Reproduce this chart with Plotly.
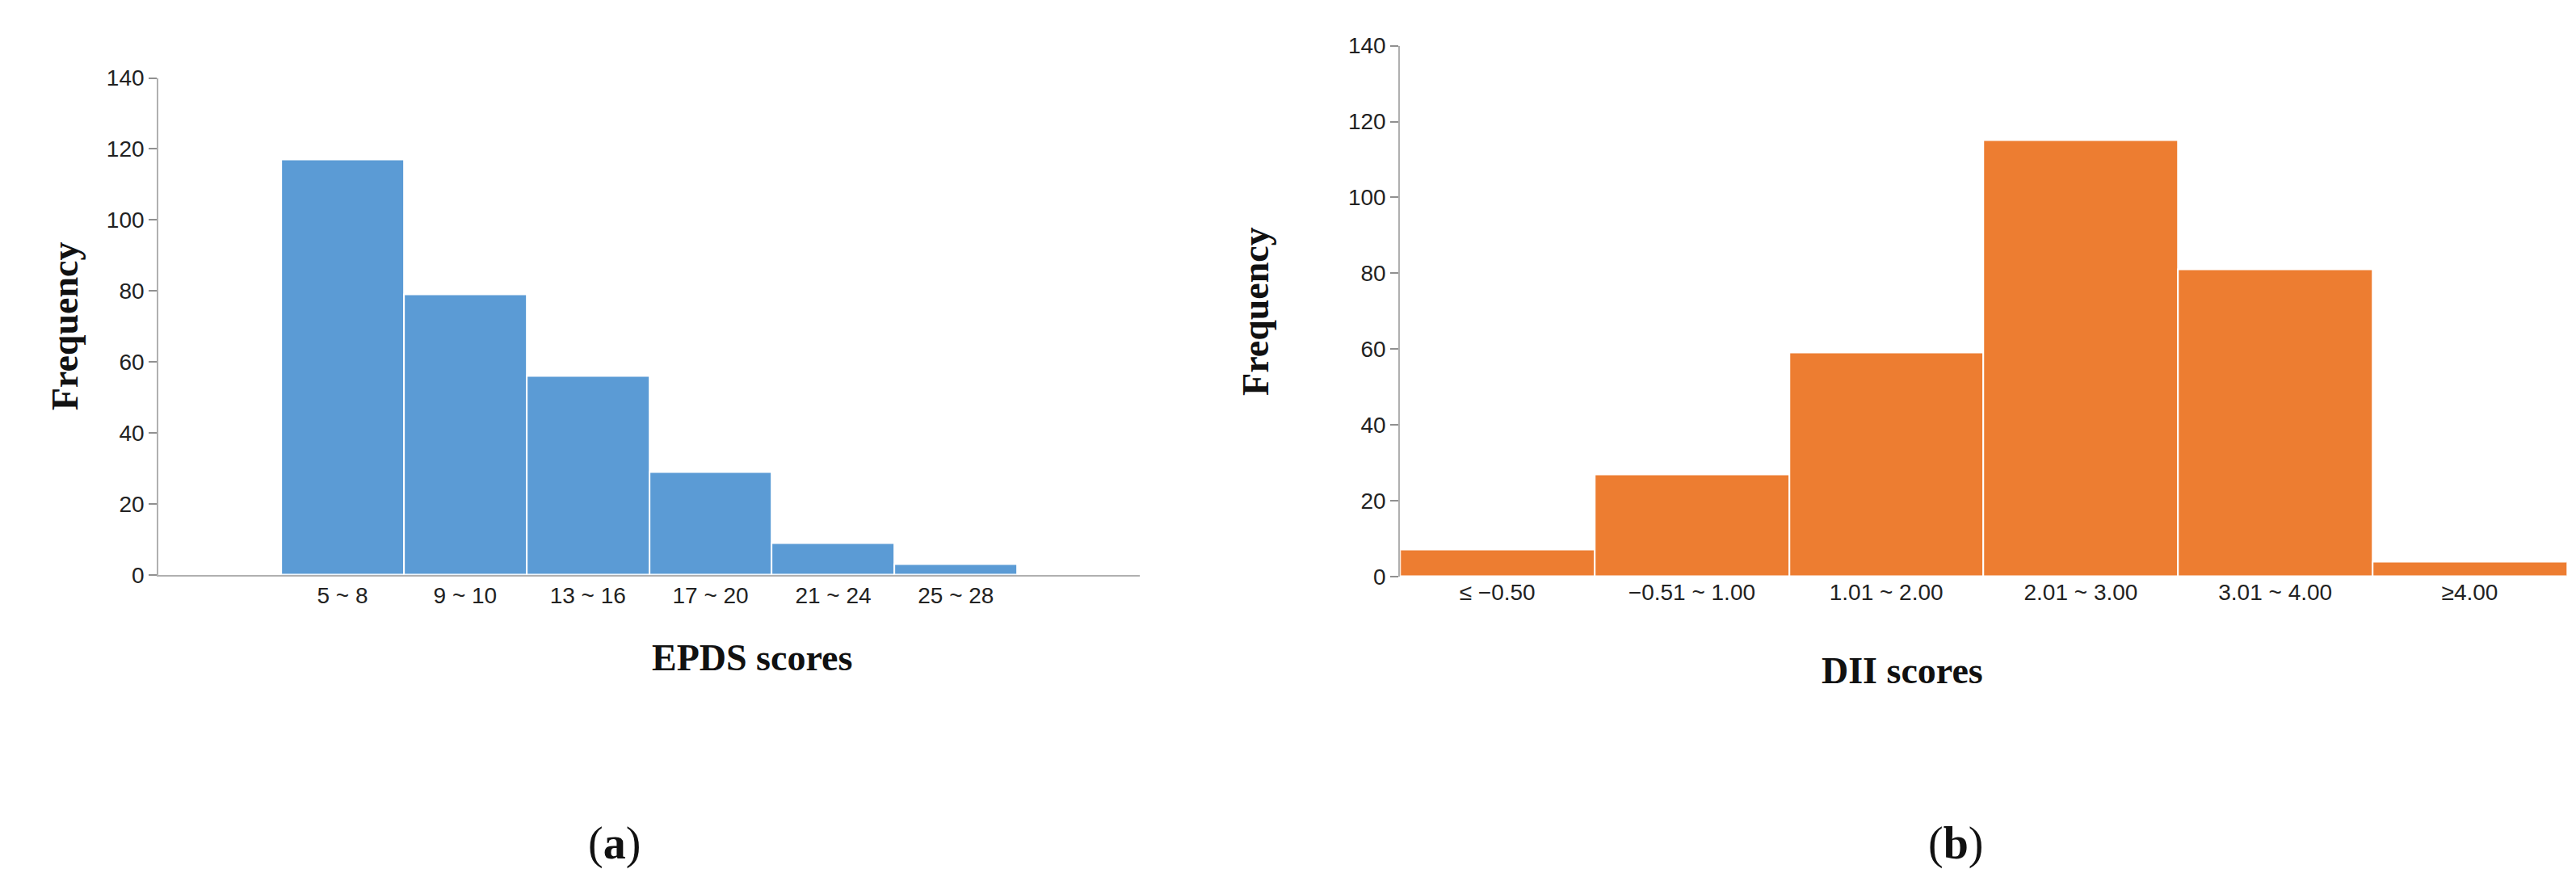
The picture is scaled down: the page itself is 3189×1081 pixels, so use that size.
import plotly.graph_objects as go

epds_labels = ["5 ~ 8", "9 ~ 10", "13 ~ 16", "17 ~ 20", "21 ~ 24", "25 ~ 28"]
epds_freq = [117, 79, 56, 29, 9, 3]
dii_labels = ["≤ −0.50", "−0.51 ~ 1.00", "1.01 ~ 2.00", "2.01 ~ 3.00", "3.01 ~ 4.00", "≥4.00"]
dii_freq = [7, 27, 59, 115, 81, 4]
y_ticks = [0, 20, 40, 60, 80, 100, 120, 140]

W, H = 3189, 1081
tickfont = dict(family="Liberation Sans", size=28, color="#222")
titlefont = dict(family="Liberation Serif", size=46, color="#111")

fig = go.Figure()
xa = [i + 1.5 for i in range(len(epds_freq))]
fig.add_trace(go.Bar(x=xa, y=epds_freq, width=1, marker=dict(color="#5B9BD5", line=dict(color="white", width=2)),
                     xaxis="x", yaxis="y", showlegend=False))
xb = [i + 0.5 for i in range(len(dii_freq))]
fig.add_trace(go.Bar(x=xb, y=dii_freq, width=1, marker=dict(color="#ED7D31", line=dict(color="white", width=2)),
                     xaxis="x2", yaxis="y2", showlegend=False))

axcommon = dict(showgrid=False, zeroline=False, linecolor="#b0b0b0", linewidth=2, ticks="outside",
                tickcolor="#909090", ticklen=10, tickwidth=2, tickfont=tickfont)
fig.update_layout(
    width=W, height=H, plot_bgcolor="white", paper_bgcolor="white",
    margin=dict(l=0, r=0, t=0, b=0),
    xaxis=dict(domain=[0.059, 0.44], range=[0, 8], tickvals=xa, ticktext=epds_labels,
               showline=True, showgrid=False, zeroline=False, linecolor="#b0b0b0", linewidth=2,
               ticks="", tickfont=tickfont, anchor="y"),
    yaxis=dict(domain=[0.344, 0.93], range=[0, 140], tickvals=y_ticks, showline=True, anchor="x", **{k: v for k, v in axcommon.items() if k not in ()}),
    xaxis2=dict(domain=[0.541, 0.994], range=[0, 6], tickvals=xb, ticktext=dii_labels,
                showline=False, showgrid=False, zeroline=False, ticks="", tickfont=tickfont, anchor="y2"),
    yaxis2=dict(domain=[0.342, 0.968], range=[0, 140], tickvals=y_ticks, showline=True, anchor="x2", **axcommon),
    bargap=0,
)
ann = [
    dict(text="<b>Frequency</b>", x=0.014, y=0.637, textangle=-90),
    dict(text="<b>EPDS scores</b>", x=0.25, y=0.22),
    dict(text="<b>Frequency</b>", x=0.485, y=0.655, textangle=-90),
    dict(text="<b>DII scores</b>", x=0.768, y=0.205),
]
for a in ann:
    fig.add_annotation(xref="paper", yref="paper", showarrow=False, font=titlefont, **a)
fig.add_annotation(xref="paper", yref="paper", x=0.225, y=-0.005, yanchor="bottom", showarrow=False,
                   text="(<b>a</b>)", font=dict(family="Liberation Serif", size=56, color="#111"))
fig.add_annotation(xref="paper", yref="paper", x=0.768, y=-0.005, yanchor="bottom", showarrow=False,
                   text="(<b>b</b>)", font=dict(family="Liberation Serif", size=56, color="#111"))
fig.write_html("out.html")
